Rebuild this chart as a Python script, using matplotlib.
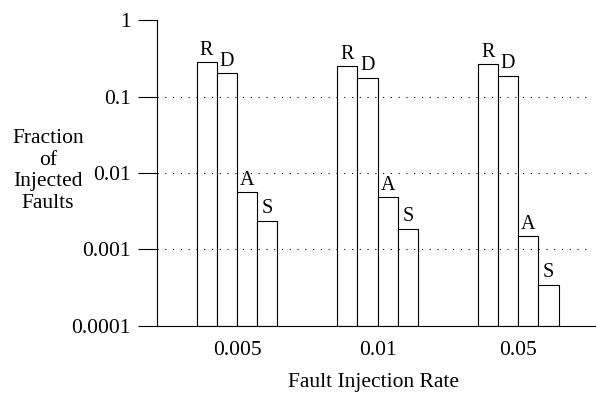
import matplotlib
matplotlib.use("Agg")
import matplotlib.pyplot as plt
import numpy as np

plt.rcParams['font.family'] = ['Liberation Serif', 'DejaVu Serif']

# data
rates = ["0.005", "0.01", "0.05"]
series = ["R", "D", "A", "S"]
R = [0.281, 0.249, 0.269]
D = [0.202, 0.177, 0.188]
A = [0.00566, 0.00483, 0.00151]
S = [0.00239, 0.00188, 0.000348]
y_ticks = [0.0001, 0.001, 0.01, 0.1, 1]
y_tick_labels = ["0.0001", "0.001", "0.01", "0.1", "1"]

fig = plt.figure(figsize=(5.96, 3.96), dpi=100)
ax = fig.add_axes([0.263, 0.177, 0.727, 0.772])

base = 0.0001
x = np.arange(len(rates))
width = 0.1438
values = [R, D, A, S]
for i, (name, vals) in enumerate(zip(series, values)):
    pos = x + (i - 1.5) * width
    heights = np.array(vals) - base
    ax.bar(pos, heights, width=width, bottom=base, color='white',
           edgecolor='black', linewidth=0.8, zorder=2)
    for p, v in zip(pos, vals):
        ax.text(p, v * 1.07, name, ha='center', va='bottom', fontsize=14.5, zorder=4)

ax.set_yscale('log')
ax.set_ylim(0.0001, 1)
ax.set_xlim(-0.571, 2.512)
ax.set_yticks(y_ticks)
ax.set_yticklabels(y_tick_labels)
ax.minorticks_off()
ax.tick_params(axis='y', length=13.7, width=0.8, pad=5, labelsize=15.5)
ax.set_xticks(x)
ax.set_xticklabels(rates)
ax.tick_params(axis='x', length=0, pad=11, labelsize=15.5)

for yv in [0.001, 0.01, 0.1]:
    ax.axhline(yv, color='black', linewidth=0.8, linestyle=(0, (1, 6)), zorder=3)

ax.spines['top'].set_visible(False)
ax.spines['right'].set_visible(False)
ax.spines['left'].set_linewidth(0.8)
ax.spines['bottom'].set_linewidth(0.8)
# bottom line runs on to the right edge of the figure
ax.spines['bottom'].set_bounds(-0.571, 2.55)
ax.spines['bottom'].set_clip_on(False)

ax.set_xlabel("Fault Injection Rate", fontsize=15.5, labelpad=9)
fig.text(48 / 596, 1 - 171 / 396, "Fraction\nof\nInjected\nFaults", ha='center',
         va='center', fontsize=15.5, linespacing=1.2)

fig.savefig("out.png", dpi=100)
